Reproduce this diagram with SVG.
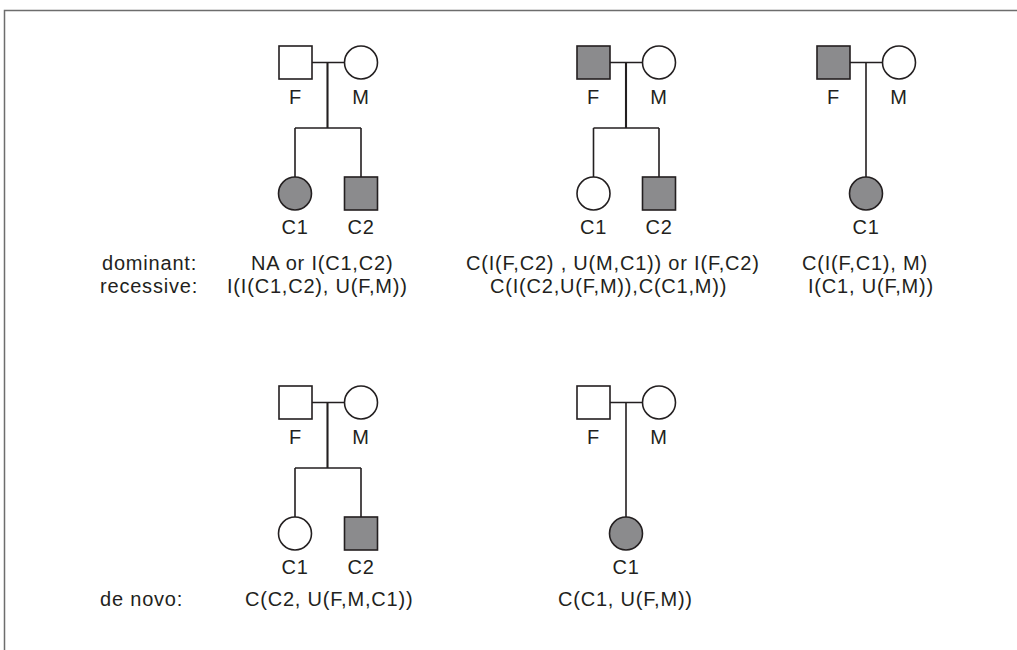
<svg xmlns="http://www.w3.org/2000/svg" width="1017" height="650" viewBox="0 0 1017 650">
<style>
.s{stroke:#231f20;stroke-width:1.6;fill:#fff}
.a{fill:#8b8b8d}
.l{stroke:#231f20;stroke-width:1.6;fill:none}
.st{stroke:#231f20;stroke-width:2.1;fill:none}
.t{font-family:"Liberation Sans",Arial,sans-serif;font-size:20px;fill:#231f20;letter-spacing:0.8px}
.c{text-anchor:middle}
</style>
<rect width="1017" height="650" fill="#fff"/>
<path d="M4.5 650V10.5H1017" fill="none" stroke="#6d6d6d" stroke-width="1.5"/>

<g id="connectors">
<path class="l" d="M312 62.5H344.5M295 128H361M295 128V177M361 128V177"/>
<path class="st" d="M327.5 62.5V128"/>
<path class="l" d="M610 62.5H642.5M593.5 128H659M593.5 128V177M659 128V177"/>
<path class="st" d="M626 62.5V128"/>
<path class="l" d="M850 62.5H882.5M866 62.5V177"/>
<path class="l" d="M312 402.5H344.5M295 468H361M295 468V517M361 468V517"/>
<path class="st" d="M327.5 402.5V468"/>
<path class="l" d="M610 402.5H642.5M626 402.5V517"/>
</g>

<g id="p1-F"><rect class="s" x="279" y="46" width="33" height="33"/><text class="t c" x="295.5" y="104">F</text></g>
<g id="p1-M"><circle class="s" cx="361" cy="62.5" r="16.5"/><text class="t c" x="361" y="104">M</text></g>
<g id="p1-C1"><circle class="s a" cx="295" cy="193.5" r="16.5"/><text class="t c" x="295" y="234">C1</text></g>
<g id="p1-C2"><rect class="s a" x="344.5" y="177" width="33" height="33"/><text class="t c" x="361" y="234">C2</text></g>

<g id="p2-F"><rect class="s a" x="577" y="46" width="33" height="33"/><text class="t c" x="593.5" y="104">F</text></g>
<g id="p2-M"><circle class="s" cx="659" cy="62.5" r="16.5"/><text class="t c" x="659" y="104">M</text></g>
<g id="p2-C1"><circle class="s" cx="593.5" cy="193.5" r="16.5"/><text class="t c" x="593.5" y="234">C1</text></g>
<g id="p2-C2"><rect class="s a" x="642.5" y="177" width="33" height="33"/><text class="t c" x="659" y="234">C2</text></g>

<g id="p3-F"><rect class="s a" x="817" y="46" width="33" height="33"/><text class="t c" x="833.5" y="104">F</text></g>
<g id="p3-M"><circle class="s" cx="899" cy="62.5" r="16.5"/><text class="t c" x="899" y="104">M</text></g>
<g id="p3-C1"><circle class="s a" cx="866" cy="193.5" r="16.5"/><text class="t c" x="866" y="234">C1</text></g>

<g id="p4-F"><rect class="s" x="279" y="386" width="33" height="33"/><text class="t c" x="295.5" y="444">F</text></g>
<g id="p4-M"><circle class="s" cx="361" cy="402.5" r="16.5"/><text class="t c" x="361" y="444">M</text></g>
<g id="p4-C1"><circle class="s" cx="295" cy="533.5" r="16.5"/><text class="t c" x="295" y="574">C1</text></g>
<g id="p4-C2"><rect class="s a" x="344.5" y="517" width="33" height="33"/><text class="t c" x="361" y="574">C2</text></g>

<g id="p5-F"><rect class="s" x="577" y="386" width="33" height="33"/><text class="t c" x="593.5" y="444">F</text></g>
<g id="p5-M"><circle class="s" cx="659" cy="402.5" r="16.5"/><text class="t c" x="659" y="444">M</text></g>
<g id="p5-C1"><circle class="s a" cx="626" cy="533.5" r="16.5"/><text class="t c" x="626" y="574">C1</text></g>

<g id="labels" xml:space="preserve">
<text class="t" x="102" y="270">dominant:</text>
<text class="t" x="100" y="293">recessive:</text>
<text class="t" x="251" y="270">NA or I(C1,C2)</text>
<text class="t" x="227" y="293">I(I(C1,C2),  U(F,M))</text>
<text class="t" x="466" y="270">C(I(F,C2) , U(M,C1))  or I(F,C2)</text>
<text class="t" x="490" y="293">C(I(C2,U(F,M)),C(C1,M))</text>
<text class="t" x="802" y="270">C(I(F,C1), M)</text>
<text class="t" x="808" y="293">I(C1, U(F,M))</text>
<text class="t" x="100" y="606">de novo:</text>
<text class="t" x="245" y="606">C(C2, U(F,M,C1))</text>
<text class="t" x="558" y="606">C(C1, U(F,M))</text>
</g>
</svg>
